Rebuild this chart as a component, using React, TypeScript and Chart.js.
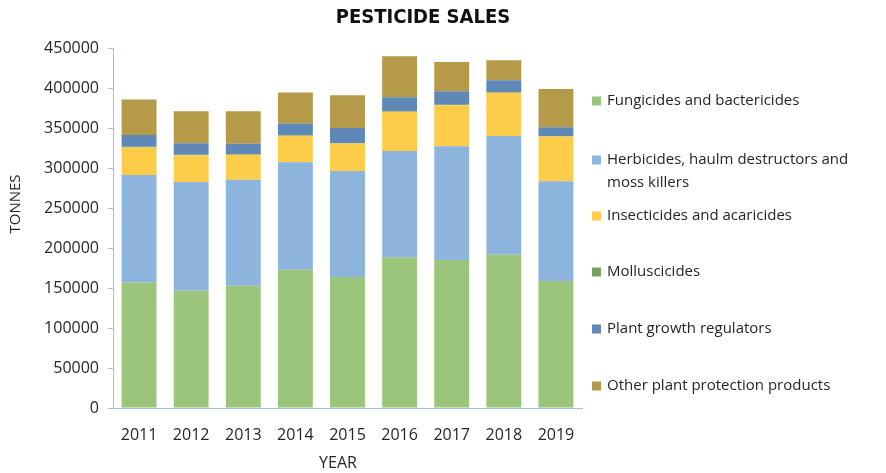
import React, { useEffect, useRef } from "react";
import { Chart, registerables } from "chart.js";

Chart.register(...registerables);

const years = ["2011", "2012", "2013", "2014", "2015", "2016", "2017", "2018", "2019"];
const fungicides = [157000, 146700, 152900, 172900, 163800, 188300, 185000, 191700, 158800];
const herbicides = [134200, 135800, 132500, 134200, 132500, 132900, 142100, 148300, 124600];
const insecticides = [34500, 33300, 31200, 33300, 34200, 49200, 51300, 54200, 55900];
const molluscicides = [900, 900, 900, 800, 800, 800, 800, 800, 800];
const growthRegulators = [14500, 14100, 12900, 14500, 18700, 17100, 16600, 14600, 10800];
const otherProducts = [44600, 40000, 40400, 38800, 40800, 51300, 36700, 25000, 47900];

const seriesNames = [
  "Fungicides and bactericides",
  "Herbicides, haulm destructors and moss killers",
  "Insecticides and acaricides",
  "Molluscicides",
  "Plant growth regulators",
  "Other plant protection products",
];
const legendLines = [
  ["Fungicides and bactericides"],
  ["Herbicides, haulm destructors and", "moss killers"],
  ["Insecticides and acaricides"],
  ["Molluscicides"],
  ["Plant growth regulators"],
  ["Other plant protection products"],
];
const seriesColors = ["#9bc57a", "#8db4dd", "#fdcd4a", "#77a165", "#5f88b6", "#b59a4a"];

const FONT = "'Open Sans', 'Noto Sans', sans-serif";
const TITLE_FONT = "'Liberation Sans Narrow', 'DejaVu Sans Condensed', 'Open Sans', sans-serif";
const AXIS_COLOR = "#9dc3e6";
const TEXT_COLOR = "#262626";

export default function App() {
  const ref = useRef<HTMLCanvasElement>(null);

  useEffect(() => {
    if (!ref.current) return;
    const allSeries = [fungicides, herbicides, insecticides, molluscicides, growthRegulators, otherProducts];

    const overlay = {
      id: "overlay",
      afterDraw(chart: any) {
        const ctx = chart.ctx as CanvasRenderingContext2D;
        ctx.save();
        // title
        ctx.fillStyle = "#111";
        ctx.font = `bold 20px ${TITLE_FONT}`;
        ctx.textAlign = "center";
        ctx.textBaseline = "middle";
        ctx.fillText("PESTICIDE SALES", 423, 18);
        // axis titles
        ctx.fillStyle = TEXT_COLOR;
        ctx.font = `16px ${FONT}`;
        ctx.fillText("YEAR", 338, 463);
        ctx.save();
        ctx.translate(16, 204);
        ctx.rotate(-Math.PI / 2);
        ctx.font = `15px ${FONT}`;
        ctx.fillText("TONNES", 0, 0);
        ctx.restore();
        // legend
        const ys = [[101], [160, 183], [216], [272], [329], [386]];
        ctx.textAlign = "left";
        ctx.font = `15px ${FONT}`;
        legendLines.forEach((lines, i) => {
          ctx.fillStyle = seriesColors[i];
          ctx.fillRect(592, ys[i][0] - 4.5, 9, 9);
          ctx.fillStyle = TEXT_COLOR;
          lines.forEach((t, j) => ctx.fillText(t, 607, ys[i][j]));
        });
        ctx.restore();
      },
    };

    const chart = new Chart(ref.current, {
      type: "bar",
      data: {
        labels: years,
        datasets: allSeries.map((d, i) => ({
          label: seriesNames[i],
          data: d,
          backgroundColor: seriesColors[i],
          borderWidth: 0,
          barPercentage: 0.67,
          categoryPercentage: 1,
        })),
      },
      options: {
        animation: false,
        responsive: true,
        maintainAspectRatio: false,
        layout: { padding: { top: 48, right: 304, left: 0, bottom: 0 } },
        plugins: { legend: { display: false }, title: { display: false }, tooltip: { enabled: false } },
        scales: {
          x: {
            stacked: true,
            grid: { display: false },
            border: { display: true, color: AXIS_COLOR, width: 1 },
            ticks: { color: TEXT_COLOR, font: { family: FONT, size: 16 }, padding: 10 },
            afterFit: (s: any) => { s.height = 65; },
          },
          y: {
            stacked: true,
            min: 0,
            max: 450000,
            grid: { display: true, drawOnChartArea: false, drawTicks: true, tickLength: 5, color: AXIS_COLOR },
            border: { display: true, color: AXIS_COLOR, width: 1 },
            ticks: {
              stepSize: 50000,
              color: TEXT_COLOR,
              font: { family: FONT, size: 16 },
              padding: 9,
              callback: (v: any) => String(v),
            },
            afterFit: (s: any) => { s.width = 113; },
          },
        },
      },
      plugins: [overlay],
    });
    return () => chart.destroy();
  }, []);

  return (
    <div style={{ position: "fixed", left: 0, top: 0, width: 886, height: 473, background: "#fff" }}>
      <canvas ref={ref} />
    </div>
  );
}
